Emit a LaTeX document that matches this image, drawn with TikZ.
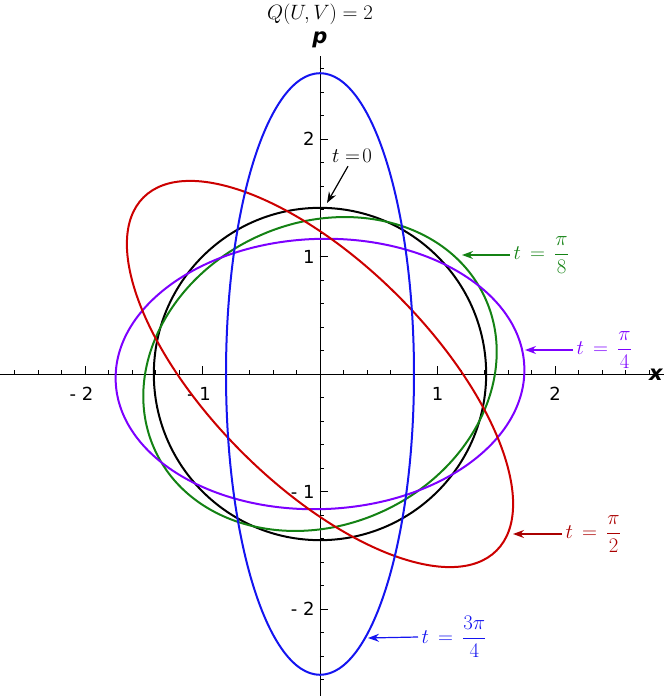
\documentclass[tikz,border=0pt]{standalone}
\usepackage{fontspec}
\newfontfamily\dv{DejaVu Sans}
\usetikzlibrary{arrows.meta}
\definecolor{cblue}{RGB}{20,20,240}
\definecolor{cred}{RGB}{204,0,0}
\definecolor{cgreen}{RGB}{20,130,20}
\definecolor{cpurple}{RGB}{125,0,255}
\definecolor{cdred}{RGB}{170,0,0}
\tikzset{curve/.style={line width=2pt},
 lab/.style={font=\fontsize{20}{24}\selectfont},
 ptr/.style={line width=1.2pt,-{Stealth[length=11pt,width=8pt]}},
 tk/.style={font=\dv\fontsize{18}{20}\selectfont}}
\begin{document}
\begin{tikzpicture}[x=117.5pt,y=117.5pt]
\useasboundingbox (-320pt,-322pt) rectangle (344pt,374pt);
% axes
\draw[line width=0.8pt] (-320pt,0) -- (344pt,0);
\draw[line width=0.8pt] (0,-322pt) -- (0,318pt);
\foreach \i in {-13,...,14}{\draw[line width=0.6pt] (\i*0.2,0) -- (\i*0.2,4pt);}
\foreach \i in {-2,-1,1,2}{\draw[line width=0.8pt] (\i,0) -- (\i,8pt);}
\foreach \i in {-13,...,13}{\draw[line width=0.6pt] (0,\i*0.2) -- (4pt,\i*0.2);}
\foreach \i in {-2,-1,1,2}{\draw[line width=0.8pt] (0,\i) -- (8pt,\i);}
\node[tk] (xm2) at (-2.03,-20pt) {- 2};
\node[tk] (xm1) at (-1.03,-20pt) {- 1};
\node[tk] (x1) at (1,-20pt) {1};
\node[tk] (x2) at (2,-20pt) {2};
\node[tk,anchor=east] (y2) at (-2pt,2) {2};
\node[tk,anchor=east] (y1) at (-2pt,1) {1};
\node[tk,anchor=east] (ym1) at (-2pt,-1) {- 1};
\node[tk,anchor=east] (ym2) at (-2pt,-2) {- 2};
\node[font=\dv\fontsize{21}{24}\selectfont\bfseries\itshape] (xl) at (336pt,-1pt) {x};
\node[font=\dv\fontsize{21}{24}\selectfont\bfseries\itshape] (pl) at (0,334pt) {p};
\node[lab] (title) at (0,360pt) {$Q\big(U,V\big)=2$};
% curves
\draw[curve,black] (0,0) circle (1.4142);
\draw[curve,cgreen,rotate=25] (0,0) ellipse [x radius=1.547,y radius=1.285];
\draw[curve,cpurple,rotate=2] (0,0) ellipse [x radius=1.74,y radius=1.15];
\draw[curve,cred,rotate=-45] (0,0) ellipse [x radius=2.125,y radius=0.94];
\draw[curve,cblue] (0,0) ellipse [x radius=0.80,y radius=2.56];
% labels
\node[lab] (l0) at (32pt,218pt) {$t=\!0$};
\coordinate (c0) at (7pt,171pt);
\draw[ptr] ([xshift=-4pt]l0.south) -- (c0);
\node[lab,text=cgreen,anchor=west] (l1) at (190pt,119pt) {$t\,=\,\displaystyle\frac{\pi}{8}$};
\coordinate (c1) at (142pt,119pt);
\draw[ptr,cgreen] (l1.west) -- (c1);
\node[lab,text=cpurple,anchor=west] (l2) at (253pt,24pt) {$t\,=\,\displaystyle\frac{\pi}{4}$};
\coordinate (c2) at (205pt,24pt);
\draw[ptr,cpurple] (l2.west) -- (c2);
\node[lab,text=cdred,anchor=west] (l3) at (242pt,-160pt) {$t\,=\,\displaystyle\frac{\pi}{2}$};
\coordinate (c3) at (193pt,-160pt);
\draw[ptr,cdred] (l3.west) -- (c3);
\node[lab,text=cblue,anchor=west] (l4) at (98pt,-263pt) {$t\,=\,\displaystyle\frac{3\pi}{4}$};
\coordinate (c4) at (48pt,-264pt);
\draw[ptr,cblue] (l4.west) -- (c4);
\end{tikzpicture}
\end{document}
